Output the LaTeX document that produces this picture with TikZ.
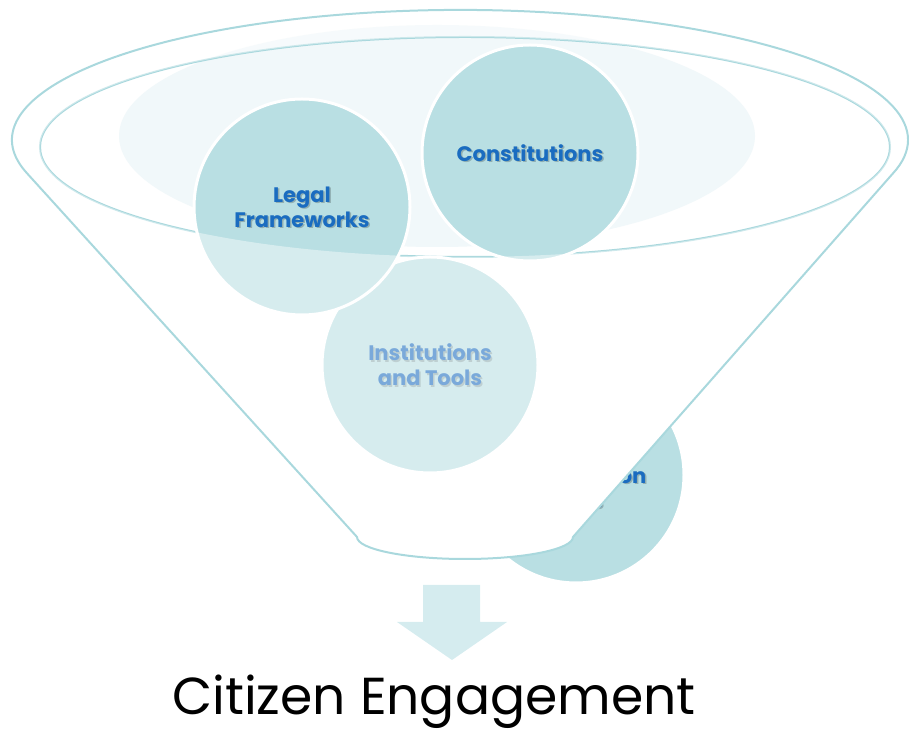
\documentclass[tikz,border=0pt]{standalone}
\usepackage{fontspec}
\newfontfamily\gothic{Poppins}
\definecolor{discfill}{HTML}{B9DFE3}
\definecolor{rimline}{HTML}{A9D8DD}
\definecolor{innerglow}{HTML}{F1F8FA}
\definecolor{labelblue}{HTML}{1A6CC0}
\definecolor{arrowfill}{HTML}{D5ECEF}
\tikzset{
  disc/.style={circle, fill=discfill, draw=white, line width=3pt,
    minimum size=216pt, inner sep=0pt},
  disctext/.style={align=center, inner sep=0pt, text=labelblue,
    font=\gothic\bfseries\fontsize{21}{25}\selectfont},
  discshadow/.style={disctext, text=black, text opacity=0.22},
  rim/.style={draw=rimline, line width=2pt},
}
\begin{document}
\begin{tikzpicture}[x=1pt,y=1pt]
\useasboundingbox (0,0) rectangle (909,730);

% disc sitting behind the funnel wall
\node[disc] (partdisc) at (576,255) {};
\node[discshadow] (partshadow) at ([shift={(1.5,-1.5)}]partdisc.center) {Public\\Participation\\Laws};
\node[disctext] (partlabel) at (partdisc.center) {Public\\Participation\\Laws};

% opaque funnel body
\fill[white] (27.3,556.4) arc[start angle=195, end angle=-15, x radius=448, y radius=130]
  -- (573,193) arc[start angle=0, end angle=-180, x radius=108, y radius=22] -- cycle;

% soft glow inside the mouth and the rim opening
\fill[innerglow] (437,594) ellipse[x radius=318, y radius=111];
\draw[rim] (465,583) ellipse[x radius=425, y radius=110];

% discs in the mouth
\node[disc] (tools) at (430,365) {};
\node[discshadow] (toolsshadow) at ([shift={(1.5,-1.5)}]tools.center) {Institutions\\and Tools};
\node[disctext] (toolslabel) at (tools.center) {Institutions\\and Tools};

\node[disc] (legal) at (302,523) {};
\node[discshadow] (legalshadow) at ([shift={(1.5,-1.5)}]legal.center) {Legal\\Frameworks};
\node[disctext] (legallabel) at (legal.center) {Legal\\Frameworks};

\node[disc] (const) at (530,577) {};
\node[discshadow] (constshadow) at ([shift={(1.5,-1.5)}]const.center) {Constitutions};
\node[disctext] (constlabel) at (const.center) {Constitutions};

% translucent front wall of the funnel, below the rim
\fill[white, fill opacity=0.42, even odd rule]
  (27.3,556.4) arc[start angle=195, end angle=-15, x radius=448, y radius=130]
  -- (573,193) arc[start angle=0, end angle=-180, x radius=108, y radius=22] -- cycle
  (465,583) ellipse[x radius=425, y radius=110];

% funnel outline
\draw[rim, line join=round] (27.3,556.4) arc[start angle=195, end angle=-15, x radius=448, y radius=130]
  -- (573,193) arc[start angle=0, end angle=-180, x radius=108, y radius=22] -- cycle;

% outlet arrow and result
\fill[arrowfill] (423,145) -- (480,145) -- (480,108) -- (507,108) -- (452,70)
  -- (397,108) -- (423,108) -- cycle;
\node[anchor=base, inner sep=0pt, font=\gothic\fontsize{52}{60}\selectfont] (result) at (434,16) {Citizen Engagement};
\end{tikzpicture}
\end{document}
